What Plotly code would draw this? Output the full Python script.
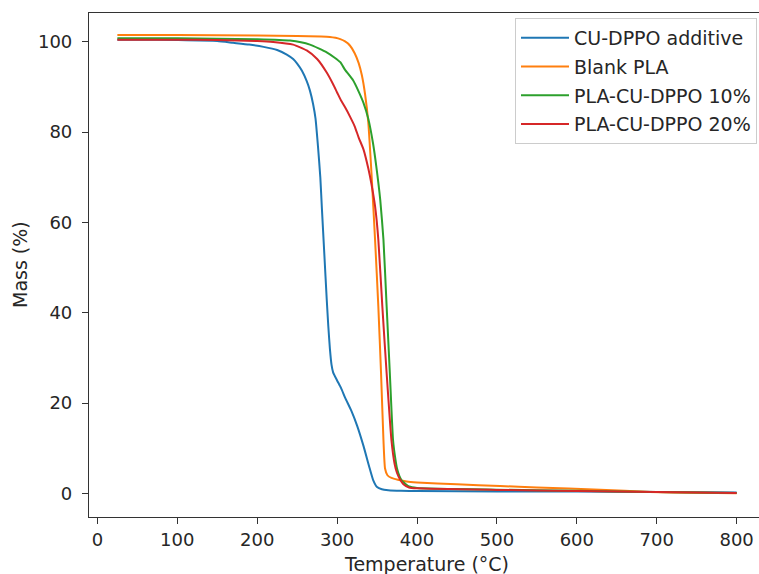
import plotly.graph_objects as go

# ---------------- data ----------------
series_names = ["CU-DPPO additive", "Blank PLA", "PLA-CU-DPPO 10%", "PLA-CU-DPPO 20%"]
series_colors = ["#1f77b4", "#ff7f0e", "#2ca02c", "#d62728"]

additive_T = [25, 50, 100, 150, 170, 190, 208, 225, 237, 245, 250, 256, 262, 266, 270, 273,
              276, 279, 281, 284, 287, 289, 291, 293, 295, 300, 305, 310, 318, 325, 333, 340,
              345, 350, 356, 364, 380, 400, 500, 600, 700, 800]
additive_M = [100.5, 100.5, 100.4, 100.2, 99.8, 99.4, 98.9, 98.2, 97.2, 96.2, 95.2, 93.6,
              91.3, 89.2, 86.2, 83.0, 77.0, 70.0, 63.0, 53.0, 43.0, 37.0, 32.0, 28.5, 26.8,
              25.0, 23.3, 21.2, 18.2, 15.0, 10.5, 6.0, 3.0, 1.4, 0.9, 0.7, 0.55, 0.5, 0.42,
              0.38, 0.3, 0.15]

blank_T = [25, 100, 200, 250, 280, 291, 298, 304, 310, 316, 322, 327, 331, 335, 339, 343,
           347.5, 351.6, 355, 358, 360, 363, 368, 376, 387, 400, 450, 504, 550, 629, 691,
           750, 800]
blank_M = [101.5, 101.5, 101.4, 101.3, 101.2, 101.1, 100.9, 100.6, 100.1, 99.2, 97.5, 95.3,
           92.6, 88.4, 82.2, 71.0, 56.2, 41.4, 26.6, 11.8, 5.5, 4.0, 3.4, 3.0, 2.6, 2.4,
           2.0, 1.6, 1.3, 0.8, 0.3, 0.12, 0.0]

pla10_T = [25, 100, 200, 241, 266, 287, 297, 304, 310, 320, 327, 333, 339, 345, 349, 354,
           358, 362, 366, 370, 373, 375, 378, 381, 386, 390, 400, 500, 600, 700, 800]
pla10_M = [100.8, 100.8, 100.6, 100.3, 99.4, 97.7, 96.5, 95.5, 93.8, 91.5, 89.0, 86.5,
           83.0, 77.5, 72.5, 65.0, 56.2, 41.4, 26.6, 11.8, 7.5, 5.5, 3.8, 2.8, 2.0, 1.5,
           1.2, 0.8, 0.55, 0.3, 0.05]

pla20_T = [25, 100, 150, 200, 220, 245, 262, 275, 287, 295, 300, 305, 310, 316, 322, 327,
           333, 339, 343, 347.5, 351.6, 356.6, 362, 368, 372, 375, 379, 383, 390, 400, 500,
           600, 700, 800]
pla20_M = [100.5, 100.5, 100.4, 100.2, 100.0, 99.4, 98.1, 96.2, 93.2, 90.6, 88.8, 87.0,
           85.5, 83.5, 81.3, 78.8, 76.2, 72.0, 68.5, 63.6, 56.2, 41.4, 26.6, 11.8, 6.5,
           4.5, 3.0, 2.0, 1.3, 1.1, 0.75, 0.5, 0.3, 0.05]

x_ticks = [0, 100, 200, 300, 400, 500, 600, 700, 800]
y_ticks = [0, 20, 40, 60, 80, 100]
x_title = "Temperature (°C)"
y_title = "Mass (%)"

all_T = [additive_T, blank_T, pla10_T, pla20_T]
all_M = [additive_M, blank_M, pla10_M, pla20_M]

# ---------------- figure ----------------
W, H = 759, 574
L, R, T, B = 89, 0, 13, 57
FONT = "DejaVu Sans"
TXT = "#262626"

fig = go.Figure()
for name, color, xs, ys in zip(series_names, series_colors, all_T, all_M):
    fig.add_trace(go.Scatter(x=xs, y=ys, mode="lines", name=name, legendgroup=name,
                             line=dict(color=color, width=2, shape="spline", smoothing=0.5)))

plot_w = W - L - R
plot_h = H - T - B

fig.update_layout(
    width=W, height=H,
    margin=dict(l=L, r=R, t=T, b=B, pad=0),
    paper_bgcolor="white", plot_bgcolor="white",
    font=dict(family=FONT, size=19, color=TXT),
    showlegend=True,
    legend=dict(x=(757 - L) / plot_w, y=(H - B - 18) / plot_h, xanchor="right", yanchor="top",
                bgcolor="rgba(255,255,255,0.8)", bordercolor="#cccccc", borderwidth=1,
                font=dict(family=FONT, size=19, color=TXT), tracegroupgap=1, itemwidth=48),
    xaxis=dict(range=[-10.5, 828], tickvals=x_ticks, ticks="outside", ticklen=6, tickwidth=1.2,
               tickcolor="#333", showline=True, linecolor="#333", linewidth=1.2, mirror=True,
               showgrid=False, zeroline=False, tickfont=dict(family=FONT, size=18, color=TXT)),
    yaxis=dict(range=[-5.25, 106.4], tickvals=y_ticks, ticks="outside", ticklen=6, tickwidth=1.2,
               tickcolor="#333", showline=True, linecolor="#333", linewidth=1.2, mirror=False,
               showgrid=False, zeroline=False, ticklabelstandoff=6,
               tickfont=dict(family=FONT, size=18, color=TXT)),
    annotations=[
        dict(text=x_title, xref="paper", yref="paper", x=(426.5 - L) / plot_w,
             y=(H - B - 564) / plot_h, xanchor="center", yanchor="middle", showarrow=False,
             font=dict(family=FONT, size=19, color=TXT)),
        dict(text=y_title, xref="paper", yref="paper", x=(20 - L) / plot_w,
             y=(H - B - 265) / plot_h, xanchor="center", yanchor="middle", showarrow=False,
             textangle=-90, font=dict(family=FONT, size=19, color=TXT)),
    ],
)

fig.write_html("out.html")
